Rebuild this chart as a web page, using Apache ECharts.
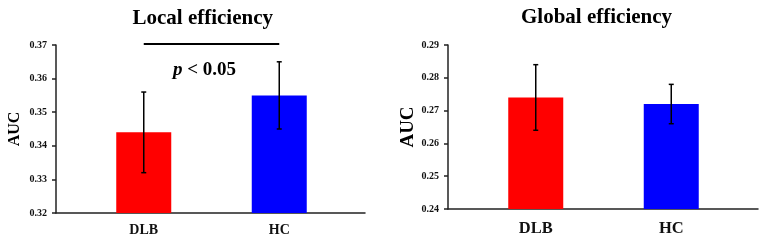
<!DOCTYPE html>
<html>
<head>
<meta charset="utf-8">
<script src="https://cdn.jsdelivr.net/npm/echarts@6/dist/echarts.min.js"></script>
<style>
html,body{margin:0;padding:0;background:#fff;}
#chart{width:765px;height:244px;}
</style>
</head>
<body>
<div id="chart"></div>
<script>
const categories = ['DLB', 'HC'];
const localTitle = 'Local efficiency';
const globalTitle = 'Global efficiency';
const localMean = [0.344, 0.355];
const localLow = [0.332, 0.345];
const localHigh = [0.356, 0.365];
const globalMean = [0.274, 0.272];
const globalLow = [0.264, 0.266];
const globalHigh = [0.284, 0.278];
const localTicks = { min: 0.32, max: 0.37, interval: 0.01 };
const globalTicks = { min: 0.24, max: 0.29, interval: 0.01 };
const sigLevel = 0.3703;
const sigText = 'p < 0.05';
const barColors = ['#ff0000', '#0000ff'];

const FONT = '"Liberation Serif", "Times New Roman", serif';
const AXIS_COLOR = '#222';

function errorRender(params, api) {
  const top = api.coord([api.value(0), api.value(2)]);
  const bot = api.coord([api.value(0), api.value(1)]);
  const cap = 2.5;
  const st = { stroke: '#000', lineWidth: 1.5 };
  return {
    type: 'group',
    children: [
      { type: 'line', shape: { x1: top[0], y1: top[1], x2: bot[0], y2: bot[1] }, style: st },
      { type: 'line', shape: { x1: top[0] - cap, y1: top[1], x2: top[0] + cap, y2: top[1] }, style: st },
      { type: 'line', shape: { x1: bot[0] - cap, y1: bot[1], x2: bot[0] + cap, y2: bot[1] }, style: st }
    ]
  };
}
function sigRender(params, api) {
  const a = api.coord([api.value(0), api.value(2)]);
  const b = api.coord([api.value(1), api.value(2)]);
  return { type: 'line', shape: { x1: a[0], y1: a[1], x2: b[0], y2: b[1] }, style: { stroke: '#000', lineWidth: 2 } };
}

function frameY(t, gridIndex, nameGap, nameSize) {
  return {
    type: 'value', gridIndex, min: t.min, max: t.max, interval: t.interval,
    name: 'AUC', nameLocation: 'middle', nameGap,
    nameTextStyle: { fontFamily: FONT, fontWeight: 'bold', fontSize: nameSize, color: '#000' },
    axisLine: { show: true, lineStyle: { color: AXIS_COLOR, width: 1.5 } },
    axisTick: { show: true, length: 4, lineStyle: { color: AXIS_COLOR, width: 1.5 } },
    axisLabel: { fontFamily: FONT, fontWeight: 'bold', fontSize: 10, color: '#111', margin: 9,
      formatter: v => v.toFixed(2) },
    splitLine: { show: false }
  };
}
function hiddenY(t, gridIndex) {
  return { type: 'value', gridIndex, min: t.min, max: t.max, interval: t.interval, show: false, splitLine: { show: false } };
}
function frameX(gridIndex) {
  return {
    type: 'value', gridIndex, min: 0, max: 1,
    axisLine: { show: true, onZero: false, lineStyle: { color: AXIS_COLOR, width: 1.5 } },
    axisTick: { show: false }, axisLabel: { show: false }, splitLine: { show: false }
  };
}
function catX(gridIndex, fontSize, margin) {
  return {
    type: 'category', gridIndex, data: categories,
    axisLine: { show: false }, axisTick: { show: false },
    axisLabel: { fontFamily: FONT, fontWeight: 'bold', fontSize, color: '#111', margin }
  };
}
function barSeries(idx, means) {
  return {
    type: 'bar', xAxisIndex: idx, yAxisIndex: idx, barWidth: 55,
    data: means.map((v, i) => ({ value: v, itemStyle: { color: barColors[i] } })),
    silent: true
  };
}
function errSeries(idx, low, high) {
  return {
    type: 'custom', xAxisIndex: idx, yAxisIndex: idx, renderItem: errorRender, silent: true,
    data: categories.map((c, i) => [i, low[i], high[i]]), z: 5
  };
}

const chart = echarts.init(document.getElementById('chart'), null, { renderer: 'canvas' });
chart.setOption({
  animation: false,
  backgroundColor: '#fff',
  grid: [
    { left: 56, right: 400, top: 45, bottom: 31 },
    { left: 76, width: 271, top: 45, bottom: 31 },
    { left: 448, right: 7, top: 45, bottom: 35 },
    { left: 468, width: 271, top: 45, bottom: 35 }
  ],
  xAxis: [frameX(0), catX(1, 14, 10), frameX(2), catX(3, 16.5, 11)],
  yAxis: [frameY(localTicks, 0, 33, 16), hiddenY(localTicks, 1), frameY(globalTicks, 2, 30, 19), hiddenY(globalTicks, 3)],
  series: [
    barSeries(1, localMean),
    errSeries(1, localLow, localHigh),
    {
      type: 'custom', xAxisIndex: 1, yAxisIndex: 1, renderItem: sigRender, silent: true, clip: false,
      data: [[0, 1, sigLevel]], z: 5
    },
    barSeries(3, globalMean),
    errSeries(3, globalLow, globalHigh)
  ],
  graphic: [
    { type: 'text', left: 204.5 - 72, top: 8, style: { text: localTitle, font: 'bold 21px ' + FONT, fill: '#000' } },
    { type: 'text', left: 597 - 76, top: 7, style: { text: globalTitle, font: 'bold 21px ' + FONT, fill: '#000' } },
    { type: 'text', left: 173, top: 61, style: {
        text: '{i|p} < 0.05', fill: '#000',
        rich: { i: { fontStyle: 'italic', fontWeight: 'bold', fontSize: 19, fontFamily: FONT } },
        fontWeight: 'bold', fontSize: 19, fontFamily: FONT } }
  ]
});
</script>
</body>
</html>
